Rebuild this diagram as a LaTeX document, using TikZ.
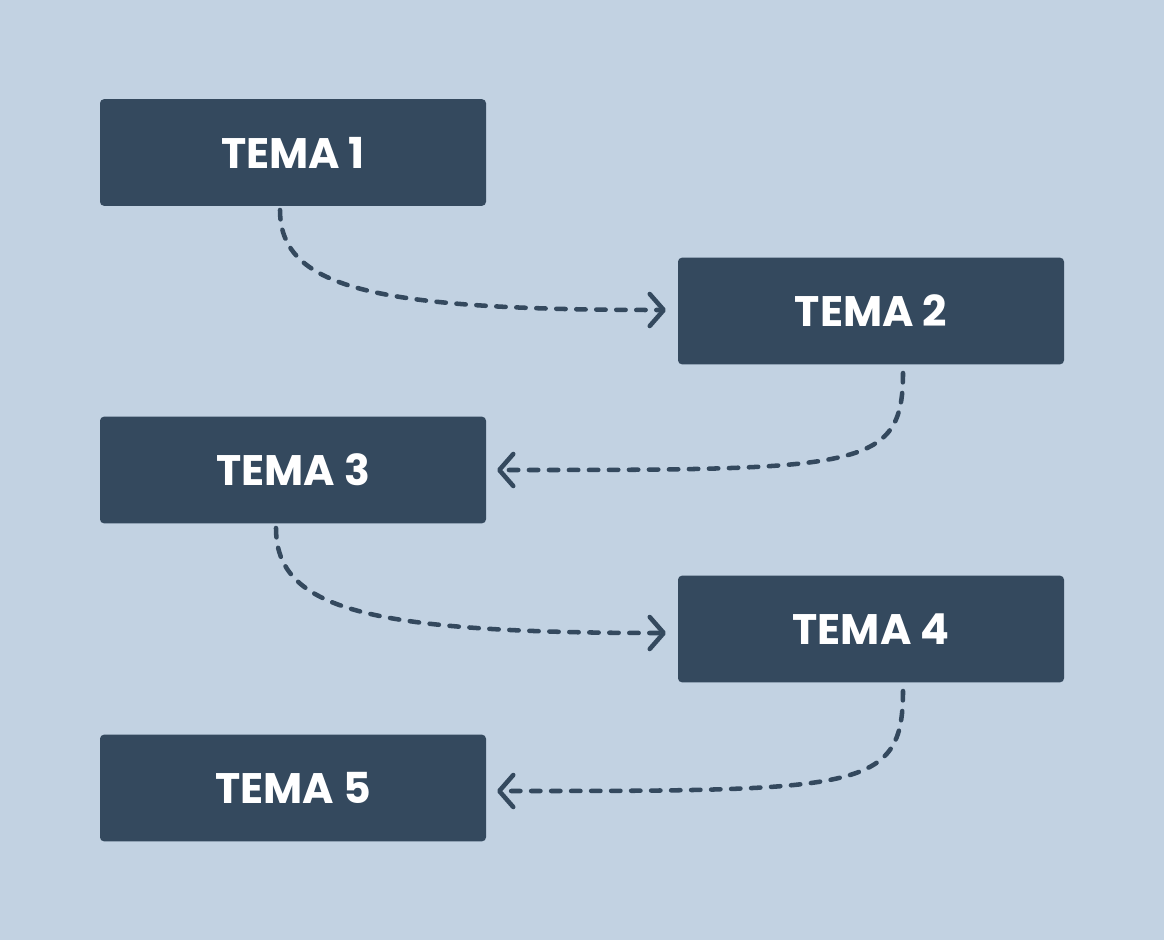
\documentclass[tikz,border=0pt]{standalone}
\usepackage{fontspec}
\setmainfont{Poppins}[BoldFont={* Bold}]
\usetikzlibrary{arrows.meta}
\definecolor{bgc}{HTML}{C2D2E2}
\definecolor{boxc}{HTML}{34495E}
\tikzset{
  temabox/.style={fill=boxc, rounded corners=3pt, minimum width=289.5pt, minimum height=80pt, inner sep=0pt,
    text=white, font=\bfseries\fontsize{32}{38}\selectfont},
  conn/.style={draw=boxc, line width=3.4pt, line cap=round, dash pattern=on 7pt off 8pt,
    -{Straight Barb[length=10.5pt,width=24pt,line cap=round,line join=round]}},
}
\begin{document}
\begin{tikzpicture}[x=0.75pt,y=-0.75pt]
\fill[bgc] (0,0) rectangle (1164,940);
\useasboundingbox (0,0) rectangle (1164,940);
\node[temabox] (t1) at (293,152.5) {TEMA 1};
\node[temabox] (t2) at (871,311) {TEMA 2};
\node[temabox] (t3) at (293,470) {TEMA 3};
\node[temabox] (t4) at (871,629) {TEMA 4};
\node[temabox] (t5) at (293,788) {TEMA 5};
\coordinate (s1) at (280,210);
\coordinate (e1) at (666,310);
\coordinate (s2) at (903,373);
\coordinate (e2) at (497,470);
\coordinate (s3) at (276,528);
\coordinate (e3) at (666,633);
\coordinate (s4) at (903,691);
\coordinate (e4) at (497,791);
\draw[conn] (s1) .. controls (280,290) and (380,310) .. (e1);
\draw[conn] (s2) .. controls (903,470) and (860,470) .. (e2);
\draw[conn] (s3) .. controls (276,610) and (370,633) .. (e3);
\draw[conn] (s4) .. controls (903,791) and (860,791) .. (e4);
\end{tikzpicture}
\end{document}
